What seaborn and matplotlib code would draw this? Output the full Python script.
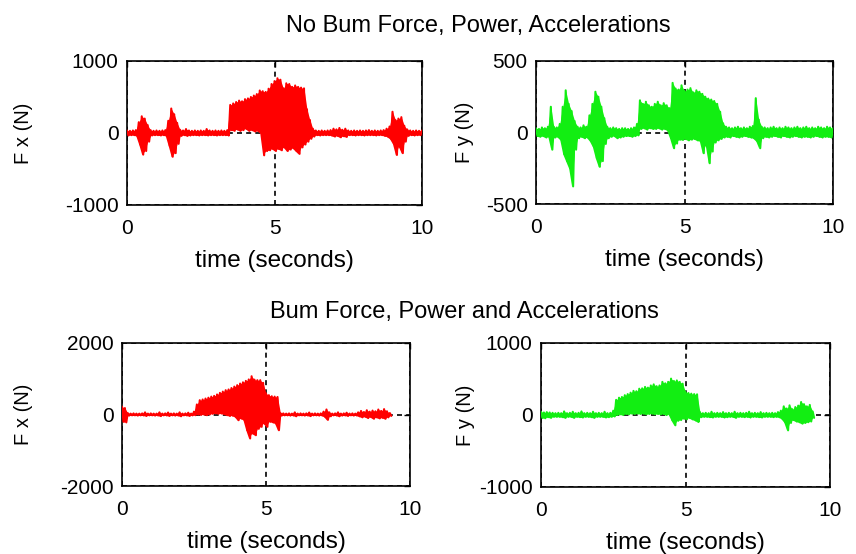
import numpy as np
import pandas as pd
import matplotlib
matplotlib.use("Agg")
import matplotlib.pyplot as plt
import seaborn as sns

# ---------------- data (envelope of the force signal, sampled every 0.1 s) ----------------
SAMPLE_STEP = 0.1  # seconds between samples

fx_noburn_hi = [35, 30, 35, 40, 150, 232, 200, 110, 40, 30,
                35, 30, 35, 40, 170, 340, 260, 140, 45, 35,
                55, 35, 30, 35, 30, 35, 30, 55, 35, 30,
                35, 30, 35, 30, 40, 390, 410, 430, 450, 440,
                470, 480, 500, 520, 540, 590, 580, 570, 615, 680,
                720, 760, 740, 620, 690, 680, 640, 660, 640, 630,
                620, 330, 180, 60, 35, 30, 35, 30, 35, 40,
                60, 50, 70, 45, 60, 35, 30, 35, 30, 35,
                30, 35, 40, 30, 35, 30, 35, 40, 60, 90,
                295, 180, 200, 220, 100, 50, 35, 30, 35, 30, 35]
fx_noburn_lo = [-35, -30, -30, -40, -160, -300, -250, -120, -35, -30,
                -30, -35, -30, -40, -180, -330, -280, -150, -40, -30,
                -40, -35, -30, -30, -35, -30, -30, -35, -30, -30,
                -35, -30, -30, -30, -35, 40, 30, 50, 30, 40,
                60, 30, 40, 20, 30, 0, -310, -250, -240, -220,
                -250, -220, -240, -200, -250, -230, -210, -250, -290, -200,
                -160, -120, -80, -50, -30, -35, -30, -30, -30, -35,
                -50, -40, -60, -45, -55, -30, -30, -35, -30, -30,
                -35, -30, -30, -30, -35, -30, -30, -40, -50, -80,
                -150, -305, -190, -280, -120, -40, -30, -35, -30, -30, -35]

fy_noburn_hi = [30, 25, 35, 30, 40, 180, 40, 35, 60, 180,
                295, 200, 150, 80, 40, 35, 50, 40, 120, 200,
                285, 250, 180, 100, 40, 30, 35, 30, 25, 30,
                30, 25, 30, 35, 60, 225, 200, 215, 190, 180,
                200, 215, 190, 205, 190, 170, 347, 307, 300, 330,
                290, 300, 310, 280, 295, 285, 270, 250, 237, 230,
                220, 200, 145, 64, 40, 35, 30, 35, 40, 30,
                35, 30, 40, 45, 240, 90, 40, 35, 30, 35,
                40, 30, 35, 30, 40, 35, 30, 35, 40, 30,
                35, 40, 30, 35, 30, 40, 35, 30, 40, 35, 30]
fy_noburn_lo = [-25, -30, -25, -35, -30, -120, -35, -30, -50, -150,
                -200, -250, -377, -120, -40, -30, -40, -35, -60, -100,
                -180, -240, -200, -80, -40, -30, -25, -40, -35, -30,
                -25, -25, -30, -25, -20, 25, 30, 20, 30, 25,
                25, 30, 20, 25, 15, -40, -110, -77, -50, -52,
                -45, -55, -50, -45, -55, -60, -145, -90, -215, -133,
                -70, -55, -45, -35, -30, -35, -25, -30, -35, -30,
                -25, -30, -35, -40, -60, -110, -40, -30, -35, -30,
                -25, -30, -35, -25, -30, -35, -30, -25, -30, -35,
                -30, -30, -35, -30, -25, -30, -35, -30, -30, -35, -30]

fx_burn_hi = [220, 180, 40, 25, 30, 25, 25, 30, 60, 25,
              30, 25, 25, 60, 25, 30, 55, 25, 30, 25,
              60, 25, 30, 50, 25, 80, 280, 400, 420, 446,
              470, 500, 520, 560, 605, 640, 680, 700, 740, 780,
              820, 865, 900, 940, 980, 1070, 975, 960, 960, 885,
              590, 540, 510, 500, 490, 40, 30, 25, 30, 25,
              60, 25, 30, 25, 30, 55, 25, 30, 25, 30,
              80, 140, 60, 25, 30, 60, 25, 30, 50, 25,
              30, 25, 60, 100, 70, 120, 80, 110, 90, 140,
              100, 150, 90, 40]
fx_burn_lo = [-200, -220, -30, -25, -25, -30, -25, -25, -40, -25,
              -25, -30, -25, -45, -25, -25, -40, -25, -30, -25,
              -50, -25, -25, -40, -25, -20, 0, -10, 0, -20,
              0, 20, 30, 20, 30, 10, -20, -40, -30, -65,
              -160, -110, -150, -440, -670, -530, -580, -400, -345, -250,
              -345, -200, -220, -250, -440, -30, -25, -25, -30, -25,
              -50, -25, -25, -30, -25, -45, -25, -25, -30, -25,
              -60, -150, -50, -25, -25, -50, -30, -25, -40, -25,
              -30, -25, -50, -80, -60, -100, -70, -120, -80, -110,
              -90, -120, -80, -40]

fy_burn_hi = [45, 35, 40, 35, 30, 25, 30, 25, 50, 25,
              30, 45, 25, 30, 50, 25, 30, 25, 45, 25,
              30, 25, 45, 25, 30, 60, 210, 240, 250, 275,
              290, 310, 335, 330, 365, 370, 390, 380, 410, 425,
              400, 410, 460, 440, 460, 505, 472, 480, 460, 435,
              320, 305, 296, 290, 287, 40, 25, 30, 25, 45,
              25, 30, 25, 40, 25, 30, 25, 45, 25, 30,
              25, 30, 45, 25, 30, 25, 40, 25, 30, 25,
              30, 25, 40, 60, 120, 90, 134, 80, 110, 130,
              180, 150, 120, 140, 50]
fy_burn_lo = [-40, -45, -30, -40, -25, -25, -25, -30, -40, -25,
              -25, -40, -25, -30, -35, -25, -25, -30, -40, -25,
              -25, -25, -35, -30, -25, -20, 0, 10, 0, 15,
              10, 20, 15, 20, 15, 20, 10, 15, 20, 10,
              15, 10, 15, 0, 10, -74, -143, -80, -70, -50,
              -60, -40, -60, -74, -97, -30, -25, -25, -30, -35,
              -25, -25, -25, -35, -30, -25, -25, -40, -25, -25,
              -30, -25, -35, -25, -25, -30, -35, -25, -25, -25,
              -30, -25, -30, -50, -100, -213, -110, -70, -90, -100,
              -120, -110, -100, -90, -40]

panel_hi = [fx_noburn_hi, fy_noburn_hi, fx_burn_hi, fy_burn_hi]
panel_lo = [fx_noburn_lo, fy_noburn_lo, fx_burn_lo, fy_burn_lo]
panel_colors = ["#ff0000", "#12ee12", "#ff0000", "#12ee12"]
panel_ylabels = ["F x (N)", "F y (N)", "F x (N)", "F y (N)"]
panel_ylim = [1000, 500, 2000, 1000]
x_ticks = [0, 5, 10]
x_label = "time (seconds)"
title_top = "No Bum Force, Power, Accelerations"
title_bottom = "Bum Force, Power and Accelerations"

# ---------------- style ----------------
sns.set_style("white")
plt.rcParams["font.family"] = ["Liberation Sans", "DejaVu Sans"]
for key in ["text.color", "axes.labelcolor", "xtick.color", "ytick.color"]:
    plt.rcParams[key] = "black"

W, H = 856, 554
fig = plt.figure(figsize=(W / 100, H / 100), dpi=100)

# axes boxes in pixels: (left, top, right, bottom)
boxes = [(127, 61, 422, 205), (536, 61, 833, 204),
         (122, 343, 410, 486), (541, 343, 830, 487)]
ylabel_right_px = [33, 474, 33, 475]

for i in range(4):
    l, t, r, b = boxes[i]
    ax = fig.add_axes([l / W, 1 - b / H, (r - l) / W, (b - t) / H])
    hi = np.asarray(panel_hi[i], dtype=float)
    lo = np.asarray(panel_lo[i], dtype=float)
    times = np.arange(len(hi)) * SAMPLE_STEP
    # solid body of the signal
    ax.fill_between(times, lo, hi, color=panel_colors[i], lw=0, zorder=2)
    # jagged oscillation drawn as alternating extremes
    xs = np.column_stack([times, times + SAMPLE_STEP / 2]).ravel()
    ys = np.column_stack([hi, lo]).ravel()
    df = pd.DataFrame({"t": xs, "f": ys})
    sns.lineplot(data=df, x="t", y="f", sort=False, estimator=None,
                 color=panel_colors[i], lw=1.5, ax=ax, zorder=3)

    L = panel_ylim[i]
    ax.set_xlim(0, 10)
    ax.set_ylim(-L, L)
    ax.set_xticks(x_ticks)
    ax.set_yticks([-L, 0, L])
    ax.set_xticklabels([str(v) for v in x_ticks])
    ax.set_yticklabels([str(v) for v in [-L, 0, L]])
    ax.grid(True, color="black", linestyle=(0, (3, 2.5)), linewidth=1.2)
    ax.set_axisbelow(True)
    for s in ax.spines.values():
        s.set_visible(True)
        s.set_color("black")
        s.set_linewidth(1.2)
    ax.tick_params(axis="both", direction="in", length=4, width=1,
                   top=True, right=True, labelsize=15, colors="black")
    ax.tick_params(axis="x", pad=10)
    ax.tick_params(axis="y", pad=6)
    ax.set_xlabel(x_label, fontsize=17.5)
    ax.xaxis.set_label_coords(0.5, -0.315)
    ax.set_ylabel(panel_ylabels[i], fontsize=14.5)
    ax.yaxis.set_label_coords((ylabel_right_px[i] - l) / (r - l), 0.5)

fig.text(478 / W, 1 - 32 / H, title_top, ha="center", va="baseline", fontsize=17)
fig.text(464 / W, 1 - 318 / H, title_bottom, ha="center", va="baseline", fontsize=17)

fig.savefig("out.png", dpi=100, facecolor="white")
